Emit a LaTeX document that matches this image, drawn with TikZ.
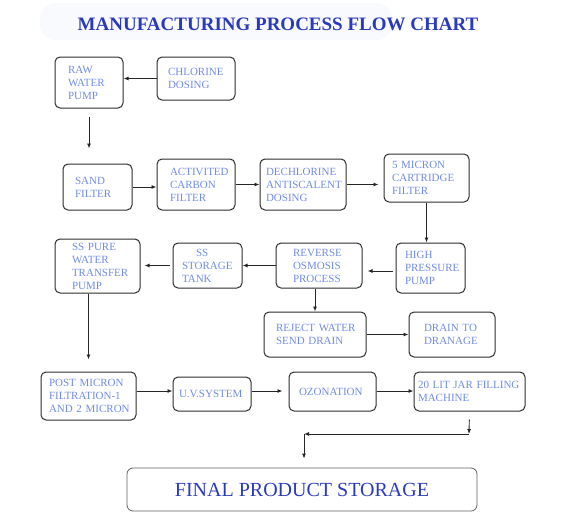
\documentclass[tikz,border=0pt]{standalone}
\usepackage{fontspec}
\setmainfont{Liberation Serif}
\usetikzlibrary{arrows.meta}
\definecolor{titleblue}{RGB}{42,58,190}
\definecolor{stepblue}{RGB}{112,140,226}
\definecolor{stepline}{RGB}{45,45,45}
\definecolor{finalline}{RGB}{95,95,95}
\definecolor{haze}{RGB}{249,250,253}
\newcommand{\stepfont}{\fontsize{11}{13}\selectfont\hyphenpenalty=10000\exhyphenpenalty=10000}

\begin{document}
\begin{tikzpicture}[
        x=1pt, y=-1pt,
        stepbox/.style={draw=stepline, line width=1pt, rounded corners=5pt, text=stepblue, font=\stepfont, align=left, inner ysep=0pt},
        flow/.style={draw=black!85, line width=0.9pt, -{Latex[length=5pt,width=4pt]}},
    ]
    \useasboundingbox (0,0) rectangle (570,525);
    \fill[haze, rounded corners=15pt] (40,3) rectangle (392,40);
    \node[font=\fontsize{19}{21}\selectfont\bfseries, text=titleblue] (title) at (278,24) {MANUFACTURING PROCESS FLOW CHART};

    % first row
    \node[stepbox, minimum width=68pt, minimum height=51pt, inner xsep=13pt, text width=42pt] (raw) at (89,82.5) {RAW\\WATER\\PUMP};
    \node[stepbox, minimum width=78pt, minimum height=43pt, inner xsep=11pt, text width=56pt] (chlorine) at (196,78.5) {CHLORINE\\DOSING};

    % second row
    \node[stepbox, minimum width=69pt, minimum height=46pt, inner xsep=12pt, text width=45pt] (sand) at (97.5,187) {SAND\\FILTER};
    \node[stepbox, minimum width=78pt, minimum height=51pt, inner xsep=13pt, text width=52pt] (carbon) at (196,184.5) {ACTIVITED\\CARBON\\FILTER};
    \node[stepbox, minimum width=86pt, minimum height=51pt, inner xsep=6pt, text width=74pt] (dechlorine) at (303,184.5) {DECHLORINE\\ANTISCALENT\\DOSING};
    \node[stepbox, minimum width=85pt, minimum height=48pt, inner xsep=8pt, text width=69pt] (micron) at (426.5,178) {5~MICRON\\CARTRIDGE\\FILTER};

    % third row
    \node[stepbox, minimum width=85pt, minimum height=54pt, inner xsep=17pt, text width=51pt] (transfer) at (97.5,266) {SS~PURE\\WATER\\TRANSFER\\PUMP};
    \node[stepbox, minimum width=69pt, minimum height=45pt, inner xsep=9pt, text width=51pt] (storage) at (207.5,265.5) {\hspace*{14pt}SS\\STORAGE\\TANK};
    \node[stepbox, minimum width=86pt, minimum height=45pt, inner xsep=17pt, text width=52pt] (osmosis) at (319,265.5) {REVERSE\\OSMOSIS\\PROCESS};
    \node[stepbox, minimum width=69pt, minimum height=50pt, inner xsep=9pt, text width=51pt] (pressure) at (430.5,268) {HIGH\\PRESSURE\\PUMP};
    \node[stepbox, minimum width=102pt, minimum height=45pt, inner xsep=12pt, text width=78pt] (reject) at (315,334.5) {REJECT~WATER\\SEND~DRAIN};
    \node[stepbox, minimum width=86pt, minimum height=45pt, inner xsep=15pt, text width=56pt] (drain) at (452,334.5) {DRAIN~TO\\DRANAGE};

    % fourth row
    \node[stepbox, minimum width=95pt, minimum height=48pt, inner xsep=8pt, text width=79pt] (postmicron) at (88.5,396) {POST~MICRON\\FILTRATION-1\\AND~2~MICRON};
    \node[stepbox, minimum width=78pt, minimum height=34pt, inner xsep=6pt, text width=66pt] (uv) at (212,394) {U.V.SYSTEM};
    \node[stepbox, minimum width=87pt, minimum height=39pt, inner xsep=10pt, text width=67pt] (ozonation) at (332.5,391.5) {OZONATION};
    \node[stepbox, minimum width=111pt, minimum height=39pt, inner xsep=4pt, text width=103pt] (jarfill) at (469.5,391.5) {20~LIT~JAR~FILLING\\MACHINE};

    \node[draw=finalline, line width=0.8pt, rounded corners=6pt, minimum width=350pt, minimum height=43pt, text=titleblue, font=\fontsize{20}{22}\selectfont] (final) at (302,489.5) {FINAL PRODUCT STORAGE};

    % connectors
    \draw[flow] (chlorine.west) -- (chlorine.west -| raw.east);
    \draw[flow, shorten <=8pt, shorten >=15pt] (raw.south) -- (raw.south |- sand.north);
    \draw[flow] (sand.east) -- (sand.east -| carbon.west);
    \draw[flow] (carbon.east) -- (carbon.east -| dechlorine.west);
    \draw[flow, shorten >=5pt] (dechlorine.east) -- (dechlorine.east -| micron.west);
    \draw[flow] (micron.south) -- (micron.south |- pressure.north);
    \draw[flow, shorten <=3pt, shorten >=5pt] ([yshift=-3pt]pressure.west) -- ([yshift=-5.5pt]osmosis.east);
    \draw[flow] (osmosis.west) -- (osmosis.west -| storage.east);
    \draw[flow, shorten <=3pt, shorten >=4pt] (storage.west) -- (storage.west -| transfer.east);
    \draw[flow] (reject.north |- osmosis.south) -- (reject.north);
    \draw[flow] (reject.east) -- (reject.east -| drain.west);
    \draw[flow, shorten >=12pt] (postmicron.north |- transfer.south) -- (postmicron.north);
    \draw[flow] ([yshift=5pt]postmicron.east) -- ([yshift=3pt]uv.west);
    \draw[flow, shorten >=6pt] ([yshift=3pt]uv.east) -- ([yshift=0.5pt]ozonation.west);
    \draw[flow] ([yshift=0.5pt]ozonation.east) -- ([yshift=0.5pt]jarfill.west);
    \coordinate (turnright) at (469,434);
    \coordinate (turnleft) at (304,434);
    \draw[flow, shorten <=8pt] (jarfill.south) -- (turnright);
    \draw[flow] (turnright) -- (turnleft);
    \draw[flow, shorten >=9pt] (turnleft) -- (turnleft |- final.north);

\end{tikzpicture}
\end{document}
